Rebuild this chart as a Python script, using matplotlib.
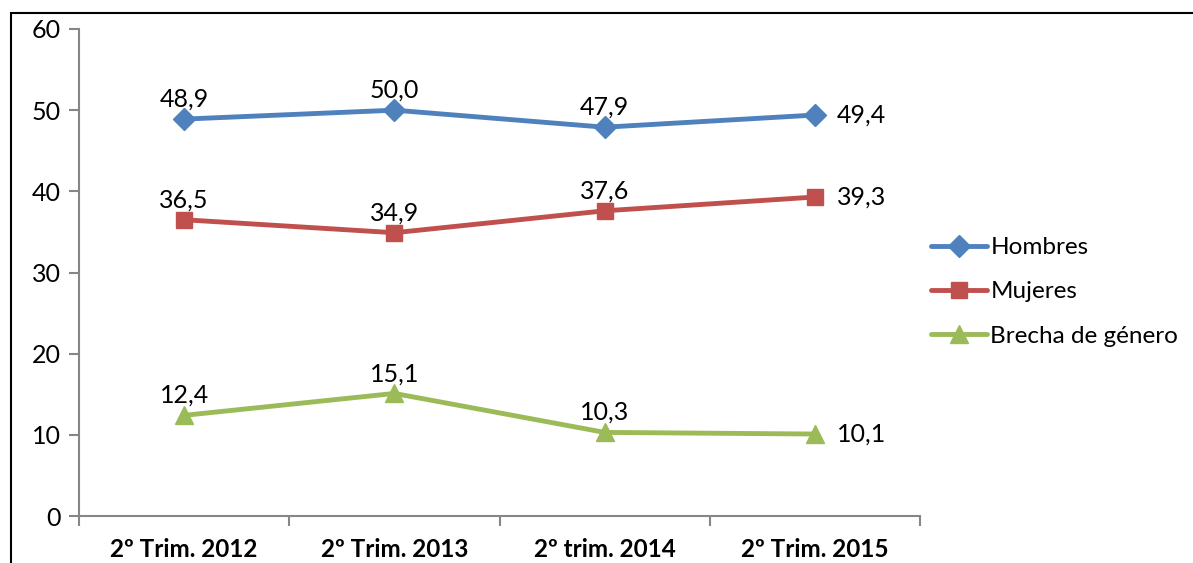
import matplotlib.pyplot as plt
import matplotlib.patches as mpatches

categories = ['2º Trim. 2012', '2º Trim. 2013', '2º trim. 2014', '2º Trim. 2015']
hombres = [48.9, 50.0, 47.9, 49.4]
mujeres = [36.5, 34.9, 37.6, 39.3]
brecha = [12.4, 15.1, 10.3, 10.1]
yticks = [0, 10, 20, 30, 40, 50, 60]

plt.rcParams['font.family'] = ['Lato', 'DejaVu Sans']

fig = plt.figure(figsize=(11.93, 5.63), dpi=100)
ax = fig.add_axes([79 / 1193, 1 - 516 / 563, 841 / 1193, 487 / 563])

series = [
    (hombres, 'Hombres', '#4F81BD', 'D', 11),
    (mujeres, 'Mujeres', '#C0504D', 's', 12),
    (brecha, 'Brecha de género', '#9BBB59', '^', 13),
]
x = list(range(len(categories)))
for vals, name, col, mk, ms in series:
    ax.plot(x, vals, color=col, lw=3.5, marker=mk, markersize=ms, label=name,
            solid_capstyle='round')
    for i, v in enumerate(vals):
        txt = ('%.1f' % v).replace('.', ',')
        if i == len(vals) - 1:
            ax.annotate(txt, (i, v), xytext=(16, 0), textcoords='offset points',
                        ha='left', va='center', fontsize=18)
        else:
            ax.annotate(txt, (i, v), xytext=(0, 6), textcoords='offset points',
                        ha='center', va='bottom', fontsize=18)

ax.set_xlim(-0.5, 3.5)
ax.set_ylim(0, 60)
ax.set_yticks(yticks)
ax.set_xticks([-0.5, 0.5, 1.5, 2.5, 3.5])
ax.set_xticklabels([])
ax.set_xticks(x, minor=True)
ax.set_xticklabels(categories, minor=True, fontweight='bold', fontsize=17.5)
ax.tick_params(axis='x', which='minor', length=0, pad=16)
ax.tick_params(axis='x', which='major', length=7, color='#868686', width=1.5)
ax.tick_params(axis='y', length=7, color='#868686', width=1.5, labelsize=18, pad=6)
for s in ['top', 'right']:
    ax.spines[s].set_visible(False)
for s in ['left', 'bottom']:
    ax.spines[s].set_color('#868686')
    ax.spines[s].set_linewidth(1.5)

ax.legend(loc='center left', bbox_to_anchor=(0.987, 0.46), frameon=False,
          fontsize=17.5, handlelength=2.3, handletextpad=0.15, labelspacing=0.95)

# chart area border (cropped on right and bottom)
fig.patches.append(mpatches.Rectangle((11 / 1193, -0.1), 1.2, 1 - 13 / 563 + 0.1,
                                      transform=fig.transFigure, fill=False,
                                      edgecolor='black', lw=1.5))

plt.savefig('out.png', dpi=100)
